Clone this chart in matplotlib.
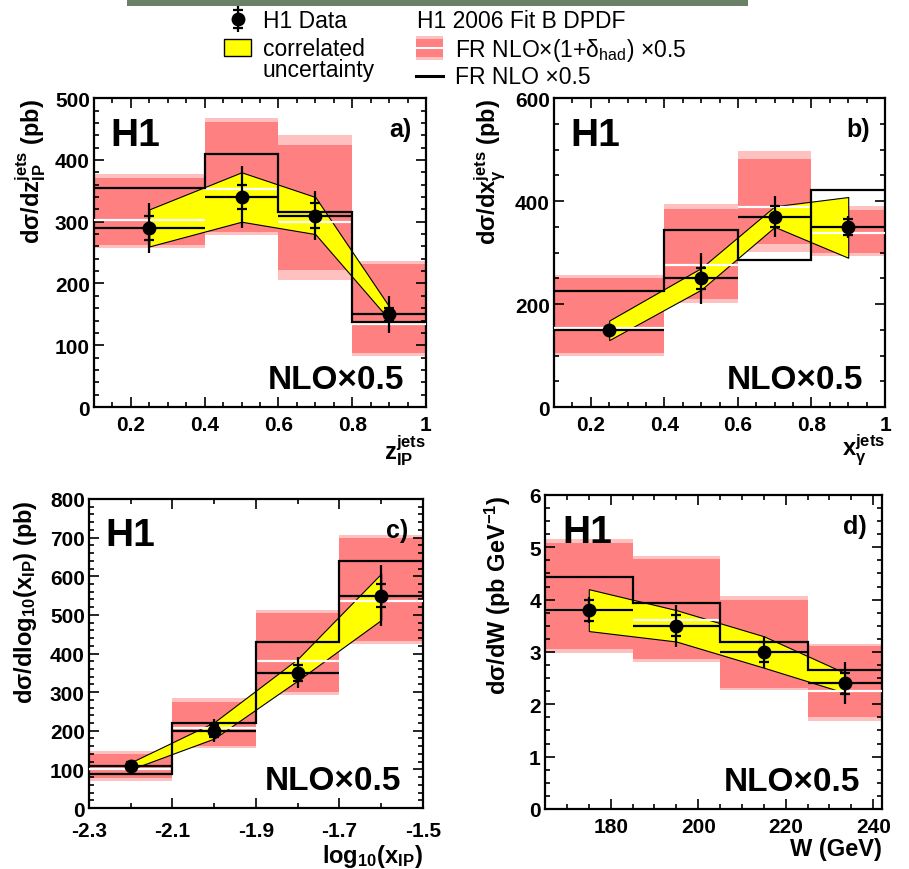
import numpy as np
import matplotlib.pyplot as plt
from matplotlib.patches import Rectangle
from matplotlib.ticker import MultipleLocator, FixedLocator, FuncFormatter

plt.rcParams['font.family'] = ['Liberation Sans', 'DejaVu Sans']
plt.rcParams['font.weight'] = 'bold'
plt.rcParams['mathtext.default'] = 'regular'

RED = '#ff8080'
PINK = '#ffc0c0'
YEL = '#ffff00'

### DATA

# a) z_IP^jets
a_edges = [0.1, 0.4, 0.6, 0.8, 1.0]
a_x = [0.25, 0.5, 0.7, 0.9]
a_data = [290, 340, 310, 150]
a_stat = [20, 20, 20, 10]
a_tot = [40, 50, 40, 30]
a_nlo = [354, 410, 315, 138]
a_had = [302, 353, 300, 135]
a_had_lo = [263, 284, 222, 88]
a_had_hi = [371, 461, 424, 232]
a_had_lo2 = [257, 278, 205, 82]
a_had_hi2 = [377, 468, 440, 237]
a_corr_lo = [260, 300, 280, 142]
a_corr_hi = [320, 380, 340, 163]

# b) x_gamma^jets
b_edges = [0.1, 0.4, 0.6, 0.8, 1.0]
b_x = [0.25, 0.5, 0.7, 0.9]
b_data = [150, 250, 370, 350]
b_stat = [6, 20, 20, 15]
b_tot = [12, 50, 40, 22]
b_nlo = [226, 344, 286, 421]
b_had = [154, 276, 388, 339]
b_had_lo = [104, 209, 316, 300]
b_had_hi = [250, 385, 482, 382]
b_had_lo2 = [99, 202, 302, 294]
b_had_hi2 = [256, 394, 498, 390]
b_corr_lo = [130, 228, 350, 290]
b_corr_hi = [168, 270, 390, 408]

# c) log10(x_IP)
c_edges = [-2.3, -2.1, -1.9, -1.7, -1.5]
c_x = [-2.2, -2.0, -1.8, -1.6]
c_data = [110, 200, 350, 550]
c_stat = [8, 15, 20, 30]
c_tot = [15, 30, 40, 80]
c_nlo = [88, 220, 430, 640]
c_had = [100, 207, 380, 535]
c_had_lo = [78, 160, 300, 432]
c_had_hi = [140, 275, 505, 698]
c_had_lo2 = [70, 155, 293, 424]
c_had_hi2 = [148, 285, 512, 706]
c_corr_lo = [100, 180, 330, 487]
c_corr_hi = [118, 222, 386, 607]

# d) W
d_edges = [165, 185, 205, 225, 242]
d_x = [175, 195, 215, 233.5]
d_data = [3.8, 3.5, 3.0, 2.4]
d_stat = [0.2, 0.2, 0.2, 0.2]
d_tot = [0.25, 0.4, 0.3, 0.4]
d_nlo = [4.43, 3.93, 3.2, 2.65]
d_had = [3.8, 3.62, 3.0, 2.25]
d_had_lo = [3.05, 2.86, 2.32, 1.75]
d_had_hi = [5.08, 4.78, 4.0, 3.11]
d_had_lo2 = [2.98, 2.81, 2.27, 1.69]
d_had_hi2 = [5.15, 4.84, 4.07, 3.16]
d_corr_lo = [3.4, 3.2, 2.7, 2.22]
d_corr_hi = [4.2, 3.8, 3.3, 2.6]


def draw_panel(ax, edges, xc, data, stat, tot, nlo, had, lo, hi, lo2, hi2, clo, chi):
    edges = np.asarray(edges)
    xc = np.asarray(xc)
    data = np.asarray(data)
    stat = np.asarray(stat)
    ax.stairs(hi2, edges, baseline=lo2, fill=True, color=PINK, lw=0, zorder=1)
    ax.stairs(hi, edges, baseline=lo, fill=True, color=RED, lw=0, zorder=1.1)
    ax.fill_between(xc, clo, chi, facecolor=YEL, edgecolor='k', lw=0.8, zorder=2)
    ax.hlines(had, edges[:-1], edges[1:], color='white', lw=1.6, zorder=3)
    ax.stairs(nlo, edges, baseline=None, color='k', lw=1.6, zorder=4)
    ax.hlines(data, edges[:-1], edges[1:], color='k', lw=1.6, zorder=5)
    ax.errorbar(xc, data, yerr=tot, fmt='o', ms=9, color='k', elinewidth=1.6,
                capsize=0, zorder=6)
    for s in (1, -1):
        ax.plot(xc, data + s * stat, ls='none', marker='_', ms=7, mew=1.6,
                color='k', zorder=6)


def style(ax, xlim, ylim, xmaj, xmin, ymaj, ymin, ylabel, xlabel, tag,
          ylab_x, xlab_y, xpad=6):
    ax.set_xlim(*xlim)
    ax.set_ylim(*ylim)
    ax.xaxis.set_major_locator(xmaj)
    ax.xaxis.set_minor_locator(MultipleLocator(xmin))
    ax.yaxis.set_major_locator(MultipleLocator(ymaj))
    ax.yaxis.set_minor_locator(MultipleLocator(ymin))
    fmt = FuncFormatter(lambda v, p: f'{v:g}')
    ax.xaxis.set_major_formatter(fmt)
    ax.yaxis.set_major_formatter(fmt)
    ax.tick_params(which='both', direction='in', top=True, right=True,
                   width=1.2, labelsize=15)
    ax.tick_params(which='major', length=7)
    ax.tick_params(which='minor', length=3.5)
    ax.tick_params(axis='x', which='major', pad=xpad)
    ax.tick_params(axis='y', which='major', pad=3)
    for sp in ax.spines.values():
        sp.set_linewidth(1.6)
    ax.text(ylab_x, 1.0, ylabel, transform=ax.transAxes, rotation=90,
            ha='center', va='top', fontsize=17)
    ax.text(1.0, xlab_y, xlabel, transform=ax.transAxes, ha='right',
            va='top', fontsize=17)
    ax.text(0.05, 0.85, 'H1', transform=ax.transAxes, fontsize=28)
    ax.text(0.955, 0.9, tag, transform=ax.transAxes, ha='right',
            va='center', fontsize=18)
    ax.text(0.935, 0.06, 'NLO×0.5', transform=ax.transAxes, ha='right',
            fontsize=24)


fig = plt.figure(figsize=(9.09, 8.70), dpi=100)

ax_a = fig.add_axes([0.1034, 0.531, 0.3652, 0.355])
ax_b = fig.add_axes([0.6095, 0.531, 0.3641, 0.355])
ax_c = fig.add_axes([0.0979, 0.0701, 0.3674, 0.3552])
ax_d = fig.add_axes([0.5996, 0.069, 0.3707, 0.3609])

draw_panel(ax_a, a_edges, a_x, a_data, a_stat, a_tot, a_nlo, a_had,
           a_had_lo, a_had_hi, a_had_lo2, a_had_hi2, a_corr_lo, a_corr_hi)
draw_panel(ax_b, b_edges, b_x, b_data, b_stat, b_tot, b_nlo, b_had,
           b_had_lo, b_had_hi, b_had_lo2, b_had_hi2, b_corr_lo, b_corr_hi)
draw_panel(ax_c, c_edges, c_x, c_data, c_stat, c_tot, c_nlo, c_had,
           c_had_lo, c_had_hi, c_had_lo2, c_had_hi2, c_corr_lo, c_corr_hi)
draw_panel(ax_d, d_edges, d_x, d_data, d_stat, d_tot, d_nlo, d_had,
           d_had_lo, d_had_hi, d_had_lo2, d_had_hi2, d_corr_lo, d_corr_hi)

style(ax_a, (0.1, 1.0), (0, 500), MultipleLocator(0.2), 0.05, 100, 20,
      'dσ/dz$_{IP}^{jets}$ (pb)', 'z$_{IP}^{jets}$', 'a)', -0.19, -0.08)
style(ax_b, (0.1, 1.0), (0, 600), MultipleLocator(0.2), 0.05, 200, 50,
      'dσ/dx$_{γ}^{jets}$ (pb)', 'x$_{γ}^{jets}$', 'b)', -0.195, -0.08)
style(ax_c, (-2.3, -1.5), (0, 800), FixedLocator(c_edges), 0.1, 100, 20,
      'dσ/dlog$_{10}$(x$_{IP}$) (pb)', 'log$_{10}$(x$_{IP}$)', 'c)', -0.19, -0.11,
      xpad=9)
style(ax_d, (165, 242), (0, 6), MultipleLocator(20), 5, 1, 0.25,
      'dσ/dW (pb GeV$^{-1}$)', 'W (GeV)', 'd)', -0.14, -0.09)

# legend block on top, drawn in pixel coordinates of the figure
lg = fig.add_axes([0, 0, 1, 1])
lg.set_xlim(0, 909)
lg.set_ylim(870, 0)
lg.axis('off')
lg.add_patch(Rectangle((127, 0), 621, 7, color='#6b8166', lw=0))
lg.errorbar([238], [20], yerr=[13], fmt='o', ms=9, color='k', elinewidth=1.6, capsize=0)
lg.plot([238, 238], [11, 29], ls='none', marker='_', ms=7, mew=1.6, color='k')
lg.add_patch(Rectangle((224, 40), 27, 17, facecolor=YEL, edgecolor='k', lw=1))
lg.add_patch(Rectangle((416, 37), 27, 24, color=PINK, lw=0))
lg.add_patch(Rectangle((416, 40), 27, 18, color=RED, lw=0))
lg.plot([416, 443], [49, 49], color='white', lw=1.5)
lg.plot([416, 443], [77, 77], color='k', lw=2.2)
kw = dict(fontsize=16.5, fontweight='normal', va='center')
lg.text(263, 21, 'H1 Data', **kw)
lg.text(263, 49, 'correlated', **kw)
lg.text(263, 71, 'uncertainty', **kw)
lg.text(417, 21, 'H1 2006 Fit B DPDF', **kw)
lg.text(455, 50, 'FR NLO×(1+δ$_{had}$) ×0.5', **kw)
lg.text(455, 77, 'FR NLO ×0.5', **kw)

fig.savefig('out.png', dpi=100)
